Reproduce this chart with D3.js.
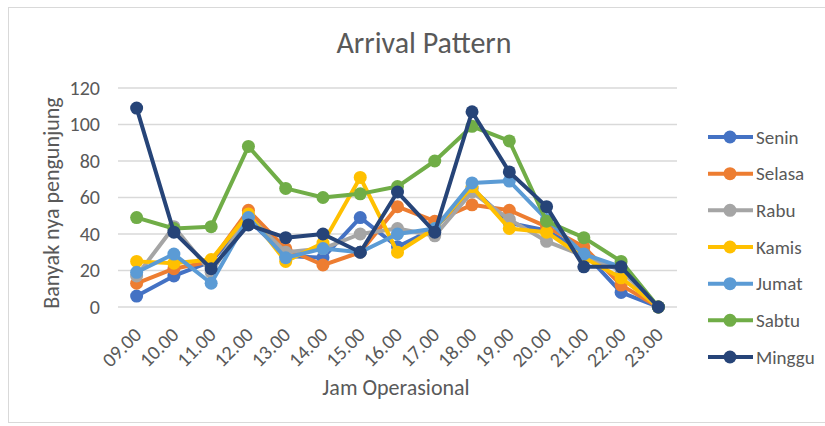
<!DOCTYPE html>
<html>
<head>
<meta charset="utf-8">
<script src="https://cdn.jsdelivr.net/npm/d3@7"></script>
<style>
	body { margin: 0; background: #fff; }
	text { font-family: Calibri, Carlito, 'Open Sans', sans-serif; fill: #595959; }
</style>
</head>
<body>
<div id="chart"></div>
<script>
const hours = ['09.00', '10.00', '11.00', '12.00', '13.00', '14.00', '15.00', '16.00', '17.00', '18.00', '19.00', '20.00', '21.00', '22.00', '23.00']
const yTicks = [0, 20, 40, 60, 80, 100, 120]

const senin = [6, 17, 25, 48, 28, 27, 49, 33, 43, 65, 46, 42, 30, 8, 0]
const selasa = [13, 21, 25, 53, 32, 23, 30, 55, 47, 56, 53, 44, 33, 12, 0]
const rabu = [17, 44, 19, 50, 30, 32, 40, 43, 39, 63, 48, 36, 28, 20, 0]
const kamis = [25, 24, 26, 51, 25, 35, 71, 30, 43, 66, 43, 41, 27, 16, 0]
const jumat = [19, 29, 13, 49, 27, 32, 30, 40, 43, 68, 69, 48, 29, 22, 0]
const sabtu = [49, 43, 44, 88, 65, 60, 62, 66, 80, 99, 91, 47, 38, 25, 0]
const minggu = [109, 41, 21, 45, 38, 40, 30, 63, 41, 107, 74, 55, 22, 22, 0]

const series = [
	{ name: 'Senin', values: senin, color: '#4472C4' },
	{ name: 'Selasa', values: selasa, color: '#ED7D31' },
	{ name: 'Rabu', values: rabu, color: '#A5A5A5' },
	{ name: 'Kamis', values: kamis, color: '#FFC000' },
	{ name: 'Jumat', values: jumat, color: '#5B9BD5' },
	{ name: 'Sabtu', values: sabtu, color: '#70AD47' },
	{ name: 'Minggu', values: minggu, color: '#264478' }
]

const width = 825
const height = 426
const margin = { top: 88, right: 148, bottom: 119, left: 118 }

const svg = d3
	.select('#chart')
	.append('svg')
	.attr('width', width)
	.attr('height', height)

// chart border
svg
	.append('rect')
	.attr('x', 8.5)
	.attr('y', 7.5)
	.attr('width', 830)
	.attr('height', 415)
	.style('fill', 'none')
	.style('stroke', '#d9d9d9')

const x = d3
	.scaleBand()
	.domain(hours)
	.range([margin.left, width - margin.right])

const y = d3
	.scaleLinear()
	.domain([0, 120])
	.range([height - margin.bottom, margin.top])

// gridlines
svg
	.append('g')
	.selectAll('line')
	.data(yTicks)
	.enter()
	.append('line')
	.attr('x1', margin.left)
	.attr('x2', width - margin.right)
	.attr('y1', d => y(d))
	.attr('y2', d => y(d))
	.style('stroke', '#d9d9d9')
	.style('stroke-width', 1.5)

const yAxis = g =>
	g
		.attr('transform', `translate(${margin.left},0)`)
		.call(d3.axisLeft(y).tickValues(yTicks).tickSize(0).tickPadding(18))
		.call(g => g.select('.domain').remove())
		.call(g => g.selectAll('text').style('font-size', '20px').style('fill', '#595959'))

svg.append('g').call(yAxis)

// x labels, rotated
svg
	.append('g')
	.selectAll('text')
	.data(hours)
	.enter()
	.append('text')
	.attr('transform', d => `translate(${x(d) + x.bandwidth() / 2 + 6}, ${y(0) + 29}) rotate(-45)`)
	.style('text-anchor', 'end')
	.style('font-size', '20px')
	.text(d => d)

const line = d3
	.line()
	.x((d, i) => x(hours[i]) + x.bandwidth() / 2)
	.y(d => y(d))

const lines = svg.append('g')

series.forEach(s => {
	const g = lines.append('g')
	g.append('path')
		.attr('d', line(s.values))
		.style('fill', 'none')
		.style('stroke', s.color)
		.style('stroke-width', 4)
		.style('stroke-linejoin', 'round')
	g.selectAll('circle')
		.data(s.values)
		.enter()
		.append('circle')
		.attr('cx', (d, i) => x(hours[i]) + x.bandwidth() / 2)
		.attr('cy', d => y(d))
		.attr('r', 6.5)
		.style('fill', s.color)
})

// titles
svg
	.append('text')
	.attr('x', 424)
	.attr('y', 53)
	.style('text-anchor', 'middle')
	.style('font-size', '30px')
	.text('Arrival Pattern')

svg
	.append('text')
	.attr('x', 396)
	.attr('y', 395)
	.style('text-anchor', 'middle')
	.style('font-size', '22px')
	.text('Jam Operasional')

svg
	.append('text')
	.attr('transform', `translate(59, 203) rotate(-90)`)
	.style('text-anchor', 'middle')
	.style('font-size', '22px')
	.text('Banyak nya pengunjung')

// legend
const legend = svg
	.append('g')
	.selectAll('g')
	.data(series)
	.enter()
	.append('g')
	.attr('transform', (d, i) => `translate(708, ${137 + i * 36.67})`)

legend
	.append('line')
	.attr('x1', 0)
	.attr('x2', 45)
	.style('stroke', d => d.color)
	.style('stroke-width', 4)

legend
	.append('circle')
	.attr('cx', 22)
	.attr('r', 6.5)
	.style('fill', d => d.color)

legend
	.append('text')
	.attr('x', 48)
	.attr('dy', '0.35em')
	.style('font-size', '19px')
	.text(d => d.name)
</script>
</body>
</html>
